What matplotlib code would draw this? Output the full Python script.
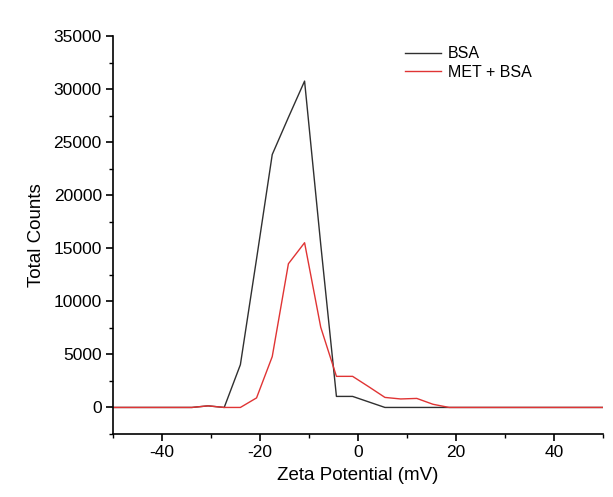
import numpy as np
import matplotlib
matplotlib.use('Agg')
from matplotlib import pyplot as plt
import matplotlib.ticker as ticker

plt.rcParams['font.family'] = ['Liberation Sans', 'DejaVu Sans']
plt.rcParams['axes.unicode_minus'] = False

# zeta potential (mV)
zeta = [-50.0, -33.9, -30.6, -27.3, -24.0, -20.7, -17.5, -14.2, -10.9, -7.6,
        -4.4, -1.1, 2.2, 5.5, 8.7, 12.0, 15.3, 18.6, 50.0]
bsa = [0, 0, 150, 0, 4030, 14000, 23830, 27330, 30750, 15350,
       1040, 1040, 520, 0, 0, 0, 0, 0, 0]
met_bsa = [0, 0, 150, 0, 0, 900, 4790, 13540, 15520, 7550,
           2930, 2930, 1950, 945, 800, 850, 300, 0, 0]

fig = plt.figure(figsize=(6.13, 4.97), dpi=100)
ax = fig.add_axes([0.1843, 0.1268, 0.7994, 0.8008])

ax.plot(zeta, bsa, color='#303030', lw=1.0, label='BSA')
ax.plot(zeta, met_bsa, color='#e03434', lw=1.0, label='MET + BSA')

ax.set_xlim(-50, 50)
ax.set_ylim(-2500, 35000)
ax.xaxis.set_major_locator(ticker.MultipleLocator(20))
ax.xaxis.set_minor_locator(ticker.MultipleLocator(10))
ax.yaxis.set_major_locator(ticker.MultipleLocator(5000))
ax.yaxis.set_minor_locator(ticker.MultipleLocator(2500))

for s in ['top', 'right']:
    ax.spines[s].set_visible(False)
for s in ['left', 'bottom']:
    ax.spines[s].set_linewidth(1.2)
ax.tick_params(which='major', direction='out', length=5, width=1.2,
               labelsize=12.5, pad=3)
ax.tick_params(which='minor', direction='out', length=3, width=1.0)

ax.set_xlabel('Zeta Potential (mV)', fontsize=13.5, labelpad=5)
ax.set_ylabel('Total Counts', fontsize=13.5, labelpad=6)

ax.legend(loc='upper left', bbox_to_anchor=(0.567, 1.01), frameon=False,
          fontsize=11.5, handlelength=2.25, handletextpad=0.4, labelspacing=0.2)

fig.savefig('out.png', dpi=100)
